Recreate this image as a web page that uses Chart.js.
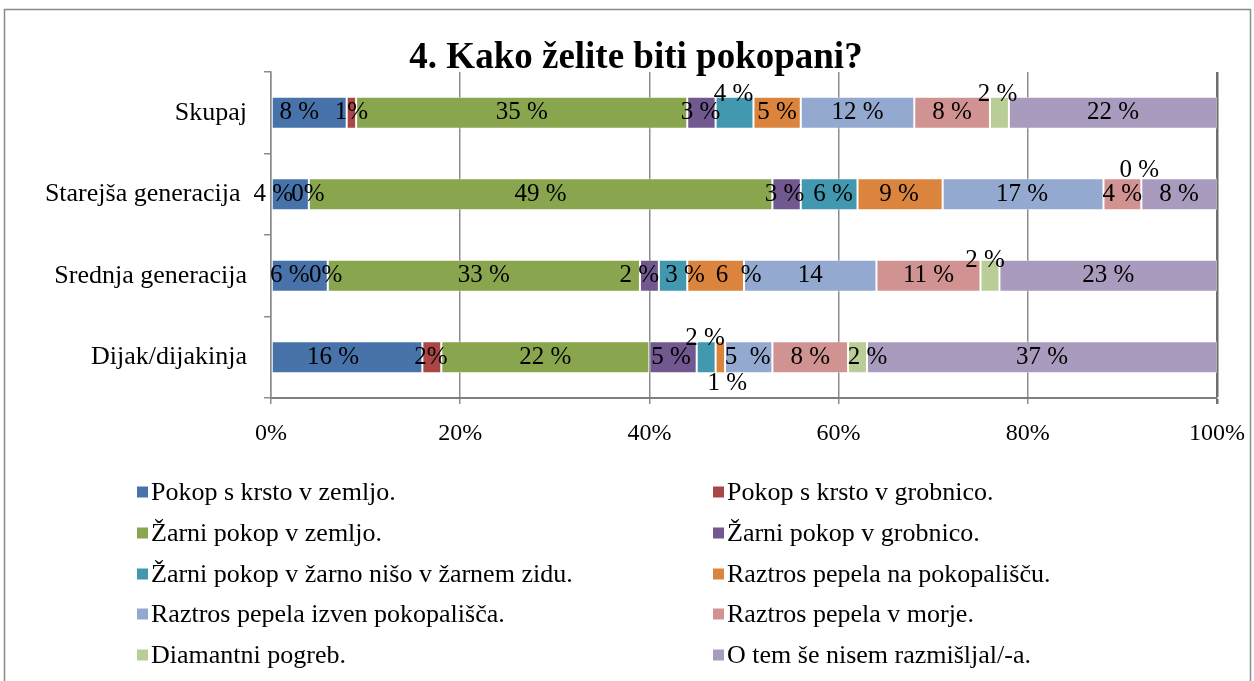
<!DOCTYPE html>
<html>
<head>
<meta charset="utf-8">
<script src="https://cdn.jsdelivr.net/npm/chart.js@4.4.1/dist/chart.umd.min.js"></script>
<style>
html,body{margin:0;padding:0;background:#fff;overflow:hidden}
canvas{display:block}
</style>
</head>
<body>
<canvas id="c" width="1254" height="681"></canvas>
<script>
// ---------- data ----------
const chartTitle = '4. Kako želite biti pokopani?';
const categories = ['Skupaj', 'Starejša generacija ', 'Srednja generacija', 'Dijak/dijakinja'];
const seriesNames = [
  'Pokop s krsto v zemljo.',
  'Pokop s krsto v grobnico.',
  'Žarni pokop v zemljo.',
  'Žarni pokop v grobnico.',
  'Žarni pokop v žarno nišo v žarnem zidu.',
  'Raztros pepela na pokopališču.',
  'Raztros pepela izven pokopališča.',
  'Raztros pepela v morje.',
  'Diamantni pogreb.',
  'O tem še nisem razmišljal/-a.'
];
const pokopKrstoZemlja   = [8, 4, 6, 16];
const pokopKrstoGrobnica = [1, 0, 0, 2];
const zarniZemlja        = [35, 49, 33, 22];
const zarniGrobnica      = [3, 3, 2, 5];
const zarniNisa          = [4, 6, 3, 2];
const raztrosPokopalisce = [5, 9, 6, 1];
const raztrosIzven       = [12, 17, 14, 5];
const raztrosMorje       = [8, 4, 11, 8];
const diamantni          = [2, 0, 2, 2];
const neRazmisljal       = [22, 8, 23, 37];
const xTickValues = [0, 20, 40, 60, 80, 100];

// label texts as printed in the chart
const labelTexts = [
  ['8 %', '4 %', '6 %', '16 %'],
  ['1%', '0%', '0%', '2%'],
  ['35 %', '49 %', '33 %', '22 %'],
  ['3 %', '3 %', '2 %', '5 %'],
  ['4 %', '6 %', '3 %', '2 %'],
  ['5 %', '9 %', '6  %', '1 %'],
  ['12 %', '17 %', '14', '5  %'],
  ['8 %', '4 %', '11 %', '8 %'],
  ['2 %', '0 %', '2 %', '2 %'],
  ['22 %', '8 %', '23 %', '37 %']
];

// ---------- styling ----------
const seriesColors = ['#4773AA', '#AA4644', '#89A54E', '#71588F', '#4198AF',
                      '#DB843D', '#93A9CF', '#D19392', '#B9CD96', '#A99BBD'];
// label nudges [dx, dy] in pixels (layout only)
const labelNudges = [
  [[-10, 0], [-17, 0], [-10, 0], [-14, 0]],
  [[0, 0], [-1, 0], [-2, 0], [-1, 0]],
  [[0, 0], [0, 0], [0, 0], [0, 0]],
  [[-1, 0], [-2, 0], [-10, 0], [-2, 0]],
  [[-1, -18], [4, 0], [12, 0], [-1, -19]],
  [[0, 0], [-1, 0], [23, 0], [7, 26]],
  [[0, 0], [-1, 0], [0, 0], [-1, 0]],
  [[0, 0], [0, 0], [0, 0], [0, 0]],
  [[-2, -18], [-2, -24], [-5, -15], [10, 0]],
  [[0, 0], [0, 0], [0, 0], [0, 0]]
];
const FONT = "'Liberation Serif', 'Times New Roman', serif";

const seriesValues = [pokopKrstoZemlja, pokopKrstoGrobnica, zarniZemlja, zarniGrobnica, zarniNisa,
                      raztrosPokopalisce, raztrosIzven, raztrosMorje, diamantni, neRazmisljal];

const datasets = seriesValues.map((vals, i) => ({
  label: seriesNames[i],
  data: vals,
  backgroundColor: seriesColors[i],
  borderColor: 'rgba(255,255,255,0.45)',
  borderWidth: ctx => (ctx.raw === 0 ? 0 : 1),
  borderSkipped: false,
  barPercentage: 0.393,
  categoryPercentage: 1
}));

const framePlugin = {
  id: 'frame',
  beforeDraw(chart) {
    const c = chart.ctx;
    c.save();
    c.fillStyle = '#fff';
    c.fillRect(0, 0, chart.width, chart.height);
    c.strokeStyle = '#8a8a8a';
    c.lineWidth = 1.5;
    c.strokeRect(4.5, 9.5, 1246, 700);
    c.restore();
  }
};

const titlePlugin = {
  id: 'drawnTitle',
  afterDraw(chart) {
    const c = chart.ctx;
    c.save();
    c.font = 'bold 37px ' + FONT;
    c.fillStyle = '#000';
    c.textAlign = 'center';
    c.textBaseline = 'alphabetic';
    c.fillText(chartTitle, 636, 68);
    c.restore();
  }
};

const valueLabelPlugin = {
  id: 'valueLabels',
  afterDatasetsDraw(chart) {
    const c = chart.ctx;
    c.save();
    c.font = '25px ' + FONT;
    c.fillStyle = '#000';
    c.textAlign = 'center';
    c.textBaseline = 'middle';
    chart.data.datasets.forEach((ds, di) => {
      const meta = chart.getDatasetMeta(di);
      meta.data.forEach((el, j) => {
        const txt = labelTexts[di][j];
        const n = labelNudges[di][j];
        const cx = (el.x + el.base) / 2 + n[0];
        const cy = el.y + n[1];
        c.fillText(txt, cx, cy);
      });
    });
    c.restore();
  }
};

const legendPlugin = {
  id: 'customLegend',
  afterDraw(chart) {
    const c = chart.ctx;
    const colX = [137, 713];
    const rowY = [492, 533, 574, 614, 655];
    const box = 11;
    c.save();
    c.font = '26px ' + FONT;
    c.textBaseline = 'middle';
    c.textAlign = 'left';
    chart.data.datasets.forEach((ds, i) => {
      const x = colX[i % 2];
      const y = rowY[Math.floor(i / 2)];
      c.fillStyle = ds.backgroundColor;
      c.fillRect(x, y - box / 2, box, box);
      c.fillStyle = '#000';
      c.fillText(ds.label, x + box + 3, y + 1);
    });
    c.restore();
  }
};

new Chart(document.getElementById('c'), {
  type: 'bar',
  data: { labels: categories, datasets },
  plugins: [framePlugin, valueLabelPlugin, legendPlugin, titlePlugin],
  options: {
    responsive: false,
    animation: false,
    devicePixelRatio: 1,
    indexAxis: 'y',
    layout: { padding: { left: 0, right: 37, top: 72, bottom: 223 } },
    plugins: {
      legend: { display: false },
      tooltip: { enabled: false },
      title: { display: false }
    },
    scales: {
      x: {
        type: 'linear',
        stacked: true,
        min: 0,
        max: 100,
        afterFit: s => { s.height = 60; s.paddingLeft = 0; s.paddingRight = 0; },
        afterBuildTicks: s => { s.ticks = xTickValues.map(v => ({ value: v })); },
        ticks: {
          callback: v => v + '%',
          color: '#000',
          font: { family: FONT, size: 24 },
          padding: 15,
          maxRotation: 0
        },
        grid: {
          color: ctx => (ctx.tick && ctx.tick.value === 100 ? '#6f6f6f' : '#8c8c8c'),
          lineWidth: ctx => (ctx.tick && ctx.tick.value === 100 ? 2.5 : 1.5),
          tickLength: 6
        },
        border: { color: '#7f7f7f', width: 2 }
      },
      y: {
        type: 'category',
        stacked: true,
        afterFit: s => { s.width = 271; },
        ticks: {
          color: '#000',
          font: { family: FONT, size: 26 },
          padding: 17
        },
        grid: {
          offset: true,
          drawOnChartArea: false,
          tickLength: 7,
          color: '#8c8c8c',
          lineWidth: 1.5
        },
        border: { color: '#8c8c8c', width: 1.5 }
      }
    }
  }
});
</script>
</body>
</html>
